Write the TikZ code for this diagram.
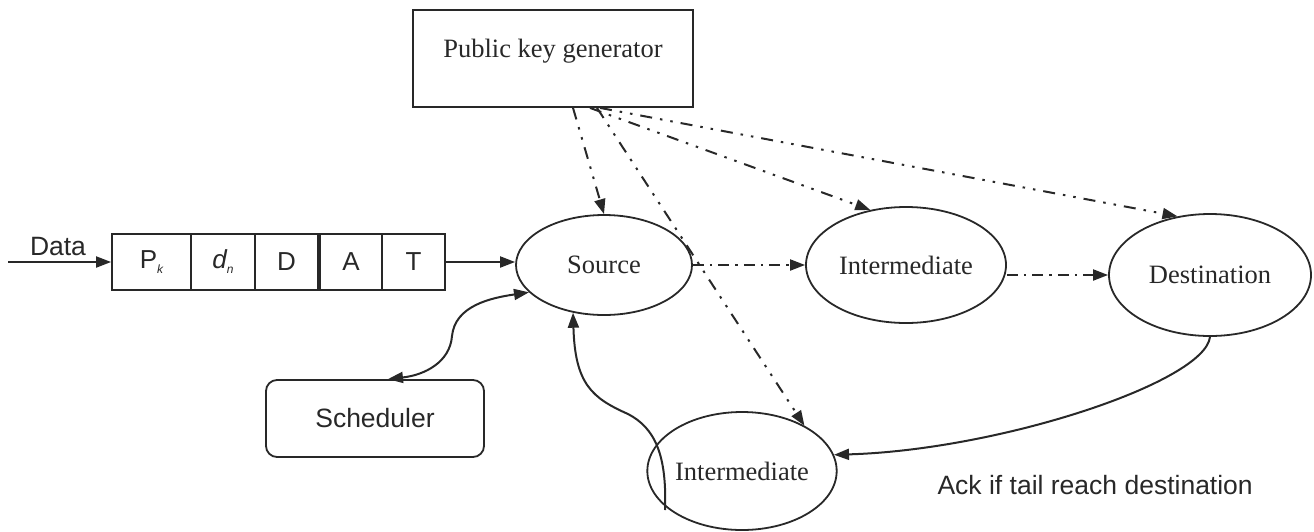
\documentclass[tikz,border=0pt]{standalone}
\usepackage{fontspec}
\setmainfont{Liberation Serif}
\setsansfont{Liberation Sans}
\usetikzlibrary{arrows.meta,shapes.geometric,calc}
\definecolor{ln}{RGB}{40,40,40}
\begin{document}
\begin{tikzpicture}[x=1pt,y=-1pt,
  every node/.style={text=ln},
  base/.style={draw=ln, line width=1.8pt},
  ell/.style={base, ellipse, inner sep=0pt, font=\fontsize{26.5}{30}\selectfont},
  cell/.style={base, minimum height=56pt, inner sep=0pt, font=\sffamily\fontsize{26}{30}\selectfont},
  sans/.style={font=\sffamily\fontsize{26.5}{30}\selectfont},
  tipa/.tip={Triangle[length=15pt,width=11pt]},
  arr/.style={draw=ln, line width=2pt, -tipa},
  arrb/.style={draw=ln, line width=2pt, tipa-tipa},
  dd/.style={arr, dash pattern=on 12pt off 8pt on 2.5pt off 8pt on 2.5pt off 8pt},
  dh/.style={arr, dash pattern=on 11pt off 6pt on 2.5pt off 6pt},
  ]
\useasboundingbox (0,0) rectangle (1314,531);

% packet
\node[cell, minimum width=79pt] (cP) at (151.5,262) {P{\fontsize{12}{12}\selectfont\itshape\raisebox{-5pt}{k}}};
\node[cell, minimum width=64pt] (cd) at (223,262) {\itshape d{\fontsize{12}{12}\selectfont\raisebox{-5pt}{n}}};
\node[cell, minimum width=63pt] (cD) at (286.5,262) {D};
\node[cell, minimum width=62pt] (cA) at (351,262) {A};
\node[cell, minimum width=63pt] (cT) at (413.5,262) {T};

\coordinate (dstart) at (8,262);
\node[sans] (datalbl) at (58,247) {Data};
\draw[arr] (dstart) -- (cP.west);

% nodes
\node[base, minimum width=280pt, minimum height=97pt, text depth=20pt,
      font=\fontsize{26.5}{30}\selectfont] (pkg) at (553,58.5) {Public key generator};
\node[ell, minimum width=176pt, minimum height=100pt] (src) at (604,265) {Source};
\node[ell, minimum width=200pt, minimum height=116pt] (iint) at (906,265) {Intermediate};
\node[ell, minimum width=202pt, minimum height=122pt] (dest) at (1210,275) {Destination};
\node[ell, minimum width=172pt, minimum height=118pt] (bint) at (742,471) {Intermediate};
\node[base, rounded corners=11pt, minimum width=218pt, minimum height=77pt, sans] (sched) at (375,418.5) {Scheduler};
\node[sans, anchor=west] (ack) at (934,485) {Ack if tail reach destination};

% solid connectors
\draw[arr] (cT.east) -- (cT.east -| src.west);
\draw[arrb] ([xshift=13pt]sched.north) .. controls (425,375) and (450,362) .. (452,336)
   .. controls (455,306) and (490,298) .. (src.200);
\coordinate (lstart) at ([xshift=-77pt,yshift=-39pt]bint.center);
\draw[arr] (lstart) .. controls (667,455) and (655,428) .. (628,414)
   .. controls (592,398) and (575,384) .. (src.237);
\draw[arr] (dest.south) .. controls (1205,382) and (1000,450) .. (bint.10);

% dash-dot connectors
\draw[dh] (src.east) -- (iint.west);
\draw[dh] (iint.east |- dest.west) -- (dest.west);
\draw[dd] ([xshift=20pt]pkg.south) -- (src.north);
\draw[dd] ([xshift=44pt]pkg.south) -- (bint.36);
\draw[dd] ([xshift=37pt]pkg.south) -- (iint.123);
\draw[dd] ([xshift=47pt]pkg.south) -- (dest.119);
\end{tikzpicture}
\end{document}
